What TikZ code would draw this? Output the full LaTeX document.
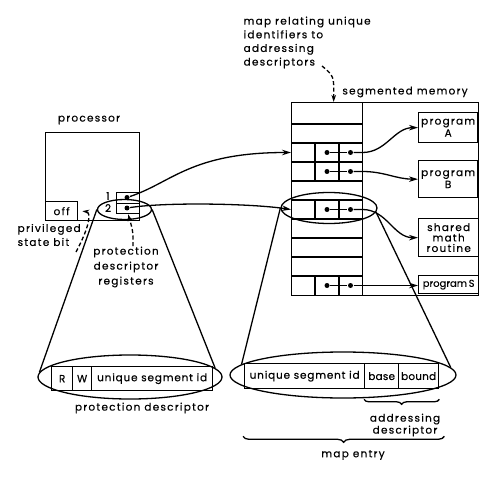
\documentclass[tikz,border=0pt]{standalone}
\usepackage{fontspec}
\setmainfont{Poppins}[LetterSpace=12, FakeBold=0.4]
\usetikzlibrary{positioning, shapes.geometric, arrows.meta, decorations.pathreplacing}
\tikzset{
	box/.style = {
		draw,
		inner sep = 0pt,
		anchor = north west
	},
	dot/.style = {
		circle,
		fill,
		inner sep = 0pt,
		minimum size = 5bp
	},
	lens/.style = {
		ellipse,
		draw,
		inner sep = 0pt
	},
	link/.style = {-{Stealth[length=9bp,width=5.5bp]}},
	note/.style = {
		dash pattern = on 4bp off 2.5bp,
		-{Stealth[length=7bp,width=4.5bp]}
	},
	txt/.style = {inner sep = 0pt},
	tight/.style = {font=\fontsize{10.5}{12}\selectfont\addfontfeature{LetterSpace=#1}}
}

\begin{document}
\begin{tikzpicture}[x=1bp, y=-1bp, line width=1.3bp,
		every node/.style={font=\fontsize{10.5}{14}\selectfont}]
	\useasboundingbox (0,0) rectangle (500,477);

	% processor and its registers
	\node[box, minimum width=94bp, minimum height=88bp] (proc) at (45,132) {};
	\node[txt] (proctxt) at (89,120) {processor};
	\node[box, minimum width=32bp, minimum height=19bp] (off) at (45,201) {off};
	\node[box, minimum width=23bp, minimum height=11bp] (reg1) at (116,192) {};
	\node[box, minimum width=23bp, minimum height=10bp] (reg2) at (116,203) {};
	\node[dot] (rd1) at (127,197.5) {};
	\node[dot] (rd2) at (127,208) {};
	\node[txt] (one) at (108,196) {1};
	\node[txt] (two) at (108,208) {2};
	\node[lens, minimum width=54bp, minimum height=20bp] (regell) at (124.5,209.5) {};

	\node[txt, align=left, anchor=west] (priv) at (17,235) {privileged\\state bit};
	\coordinate (privtail) at (76,252);
	\draw[note] (privtail) .. controls (92,222) and (90,212) .. ([xshift=4bp]off.east);

	\node[txt, align=center, font=\fontsize{10.5}{15}\selectfont] (regtxt) at (126,267)
		{protection\\descriptor\\registers};
	\draw[note] ([xshift=7bp]regtxt.north) .. controls +(0,-15) .. (reg2.south);

	% segmented memory
	\node[box, minimum width=187bp, minimum height=193bp] (mem) at (291,102) {};
	\node[box, minimum width=71bp, minimum height=193bp] (map) at (291,102) {};
	\foreach \y in {124,143,...,276}
		\draw (map.west |- 0,\y) -- (map.east |- 0,\y);
	\foreach \r/\y in {3/143, 4/162, 6/200, 10/276} {
		\draw (315,\y) -- ++(0,19);
		\draw (339,\y) -- ++(0,19);
		\node[dot] (d\r-a) at (327,\y+9.5) {};
		\node[dot] (d\r-b) at (350.5,\y+9.5) {};
		\draw (d\r-a) -- (d\r-b);
	}
	\node[txt] (memtxt) at (405,92) {segmented memory};

	\node[box, minimum width=59bp, minimum height=30bp, align=center,
		font=\fontsize{10.5}{12}\selectfont] (progA) at (418,112) {program\\A};
	\node[box, minimum width=59bp, minimum height=37bp, align=center,
		font=\fontsize{10.5}{12}\selectfont] (progB) at (418,160) {program\\B};
	\node[box, minimum width=60bp, minimum height=38bp, align=center,
		font=\fontsize{10.5}{10.5}\selectfont] (shared) at (418,218) {shared\\math\\routine};
	\node[box, minimum width=60bp, minimum height=18bp,
		font=\fontsize{10}{12}\selectfont\addfontfeature{LetterSpace=0}] (progS) at (418,275) {program\,S};

	\draw[link] (d3-b) -- ++(12,0) to[out=0, in=180] (progA.west);
	\draw[link] (d4-b) -- ++(12,0) to[out=0, in=180] (progB.west);
	\draw[link] (d6-b) -- ++(12,0) to[out=0, in=180] (shared.west);
	\draw[link] (d10-b) -- (d10-b -| progS.west);

	\draw[link] (rd1) .. controls +(45,-15) and +(-100,0) .. (map.west |- d3-a);
	\draw[link] (rd2) .. controls +(40,-6) and +(-40,-6) .. (map.west |- d6-a);

	\node[lens, minimum width=96bp, minimum height=31bp] (memell) at (329,208) {};

	\node[txt, anchor=north west, align=left, font=\fontsize{10.5}{13.7}\selectfont]
		(maptxt) at (243,16) {map relating unique\\identifiers to\\addressing\\descriptors};
	\coordinate (maptail) at (322,66);
	\draw[note] (maptail) .. controls (334,76) .. ([xshift=6.5bp]map.north);

	% protection descriptor
	\node[lens, minimum width=184bp, minimum height=44bp] (pdell) at (130,377) {};
	\node[box, minimum width=21bp, minimum height=24bp] (pd-r) at (51,366) {R};
	\node[box, minimum width=19bp, minimum height=24bp] (pd-w) at (72,366) {W};
	\node[box, minimum width=121bp, minimum height=24bp, tight=8] (pd-id) at (91,366) {unique segment id};
	\node[txt] (pdtxt) at (142,408) {protection descriptor};

	\draw (regell.west) -- (pdell.177);
	\draw (regell.east) -- (pdell.6);

	% map entry
	\node[lens, minimum width=226bp, minimum height=46bp] (mapell) at (343,375) {};
	\node[box, minimum width=120bp, minimum height=25bp, tight=8] (me-id) at (244,363) {unique segment id};
	\node[box, minimum width=34bp, minimum height=25bp, tight=2] (me-base) at (364,363) {base};
	\node[box, minimum width=40bp, minimum height=25bp, tight=2] (me-bound) at (398,363) {bound};

	\draw (memell.west) -- (mapell.174);
	\draw (memell.355) -- (mapell.4);

	\draw[decorate, decoration={brace, amplitude=5bp, mirror}]
		([yshift=-10bp]me-base.south west) -- ([yshift=-10bp]me-bound.south east);
	\node[txt, align=center, font=\fontsize{10.5}{12}\selectfont] (adtxt) at (405,425)
		{addressing\\descriptor};
	\draw[decorate, decoration={brace, amplitude=6bp, mirror}]
		([xshift=-1bp,yshift=-47bp]me-id.south west) -- ([xshift=5bp,yshift=-47bp]me-bound.south east);
	\node[txt] (metxt) at (353,455) {map entry};
\end{tikzpicture}
\end{document}
